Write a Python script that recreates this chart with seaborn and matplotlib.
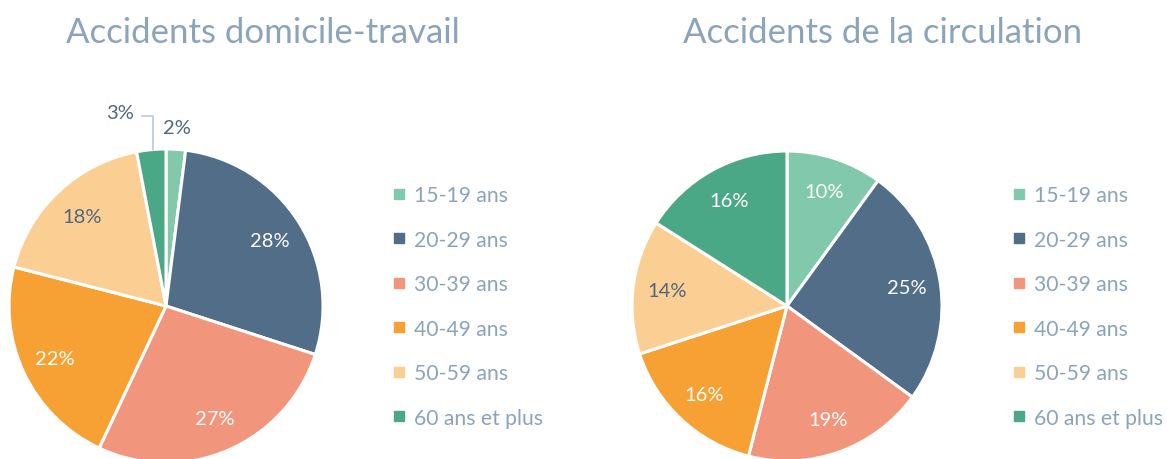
import matplotlib
matplotlib.use("Agg")
import matplotlib.pyplot as plt
from matplotlib.lines import Line2D
import numpy as np
import seaborn as sns

categories = ["15-19 ans", "20-29 ans", "30-39 ans", "40-49 ans", "50-59 ans", "60 ans et plus"]
domicile_travail = [2, 28, 27, 22, 18, 3]
circulation = [10, 25, 19, 16, 14, 16]
titles = ["Accidents domicile-travail", "Accidents de la circulation"]

sns.set_theme(style="white")
plt.rcParams["font.family"] = ["Lato", "DejaVu Sans"]

palette = sns.color_palette(["#82C8AC", "#526D88", "#F2957D", "#F7A033", "#FBCF93", "#4BA886"])
dark_txt = "#51667F"
title_col = "#8BA4BB"
legend_col = "#8BA4BB"
# label colors per slice (white on saturated slices)
label_cols = ["white", "white", "white", "white", dark_txt, "white"]

W, H = 1167, 460
fig = plt.figure(figsize=(W / 100, H / 100), dpi=100)
fig.patch.set_facecolor("white")


def add_pie(values, cx, cy, r, title, tx, leg_x):
    ax = fig.add_axes([(cx - r) / W, (H - cy - r) / H, 2 * r / W, 2 * r / H])
    wedges, texts, autotexts = ax.pie(
        values, colors=palette, startangle=90, counterclock=False,
        autopct=lambda p: f"{p:.0f}%", pctdistance=0.78,
        wedgeprops=dict(edgecolor="white", linewidth=2.2),
        textprops=dict(fontsize=14.5),
    )
    ax.set_xlim(-1, 1)
    ax.set_ylim(-1, 1)
    ax.axis("off")
    for i, (w, t) in enumerate(zip(wedges, autotexts)):
        t.set_color(label_cols[i])
        t.set_clip_on(False)
        if values[i] < 5:
            t.set_color(dark_txt)
            mid = np.deg2rad((w.theta1 + w.theta2) / 2)
            if i == 0:
                t.set_position((1.14 * np.cos(mid), 1.14 * np.sin(mid)))
            else:
                ex, ey = np.cos(mid), np.sin(mid)
                lx, ly = -0.29, 1.23
                t.set_position((lx, ly))
                ax.add_line(Line2D([lx + 0.14, ex + 0.01, ex + 0.01], [ly - 0.02, ly - 0.02, ey],
                                   color="#BCC8D4", lw=1.2, clip_on=False))
    fig.text(tx / W, 1 - 33 / H, title, ha="center", va="center", fontsize=25, color=title_col)
    handles = [Line2D([], [], marker="s", linestyle="none", markersize=7.5,
                      markerfacecolor=c, markeredgecolor=c) for c in palette]
    leg = fig.legend(handles, categories, loc="center left",
                     bbox_to_anchor=(leg_x / W, 1 - 307.5 / H), frameon=False,
                     fontsize=15.2, labelspacing=1.16, handlelength=0.6,
                     handletextpad=0.4, borderpad=0, borderaxespad=0)
    for txt in leg.get_texts():
        txt.set_color(legend_col)
    return ax


add_pie(domicile_travail, 166, 307, 157, titles[0], 263, 393)
add_pie(circulation, 787, 307, 155, titles[1], 883, 1013)

fig.savefig("out.png", dpi=100, facecolor="white")
